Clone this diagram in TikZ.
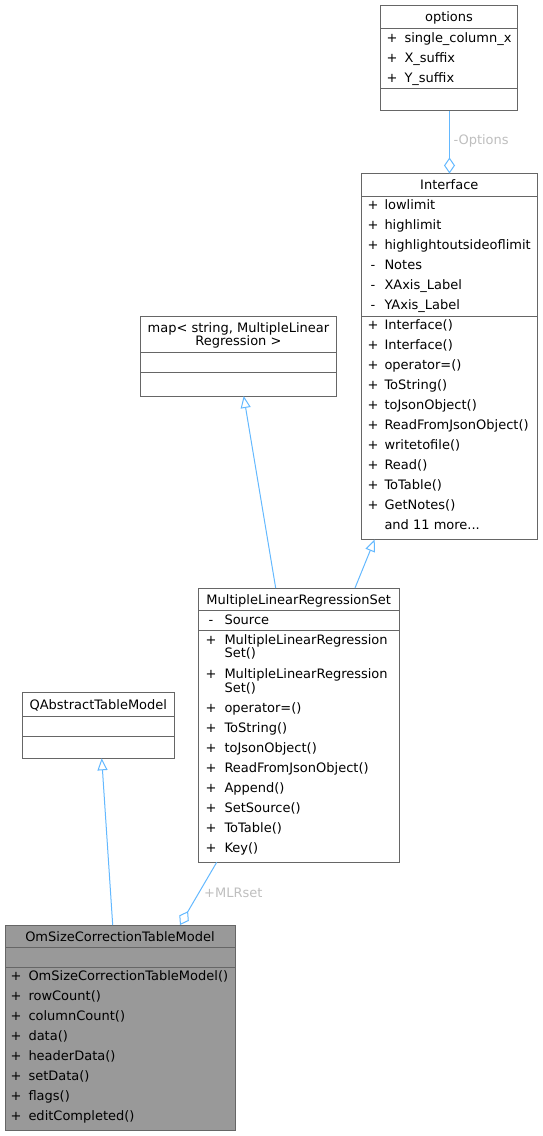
\documentclass[tikz,border=0pt]{standalone}
\usepackage{fontspec}
\setmainfont{DejaVu Sans}
\usetikzlibrary{arrows.meta}
\definecolor{edgeblue}{HTML}{63B8FF}
\definecolor{boxline}{HTML}{666666}
\definecolor{lblgrey}{HTML}{BEBEBE}
\definecolor{hlfill}{HTML}{999999}
\begin{document}
\begin{tikzpicture}[x=1pt,y=-1pt,
  umlbox/.style={draw=boxline, line width=1pt, fill=white, anchor=north west, inner sep=0pt, outer sep=0pt},
  hlbox/.style={umlbox, fill=hlfill},
  txt/.style={inner sep=0pt, anchor=base west, font=\fontsize{13}{15}\selectfont},
  vis/.style={inner sep=0pt, anchor=base, font=\fontsize{13}{15}\selectfont},
  hdr/.style={inner sep=0pt, anchor=base, font=\fontsize{13}{15}\selectfont},
  sepline/.style={draw=boxline, line width=1pt},
  inherit/.style={draw=edgeblue, line width=1pt, -{Triangle[open, length=12pt, width=10pt]}},
  aggr/.style={draw=edgeblue, line width=1pt, {Diamond[open, length=16pt, width=11pt]}-},
  elabel/.style={inner sep=0pt, anchor=base west, text=lblgrey, font=\fontsize{13}{15}\selectfont}]
\useasboundingbox (0,0) rectangle (543,1136);

% ---------- options ----------
\node[umlbox, minimum width=137pt, minimum height=105pt] (opt) at (380.5,5.5) {};
\draw[sepline] (380.5,28.5) -- (517.5,28.5);
\draw[sepline] (380.5,88.5) -- (517.5,88.5);
\node[hdr] (optH) at (449,21.5) {options};
\node[vis] (optv1) at (392,42.5) {+};
\node[txt] (opta1) at (404.3,42.5) {single\_column\_x};
\node[vis] (optv2) at (392,62.5) {+};
\node[txt] (opta2) at (404.3,62.5) {X\_suffix};
\node[vis] (optv3) at (392,82.5) {+};
\node[txt] (opta3) at (404.3,82.5) {Y\_suffix};

% ---------- Interface ----------
\node[umlbox, minimum width=176.7pt, minimum height=366pt] (ifc) at (361,173.5) {};
\draw[sepline] (361,196.5) -- (537.7,196.5);
\draw[sepline] (361,316.5) -- (537.7,316.5);
\node[hdr] (ifcH) at (449.3,189) {Interface};
\foreach \v/\t [count=\i] in {+/lowlimit,+/highlimit,+/highlightoutsideoflimit,-/Notes,-/XAxis\_Label,-/YAxis\_Label}{
  \node[vis] (ifcv\i) at (373,209+20*\i-20) {\v};
  \node[txt] (ifca\i) at (384.3,209+20*\i-20) {\t};
}
\foreach \t [count=\i] in {Interface(),Interface(),operator=(),ToString(),toJsonObject(),ReadFromJsonObject(),writetofile(),Read(),ToTable(),GetNotes()}{
  \node[vis] (ifcmv\i) at (373,329.5+20*\i-20) {+};
  \node[txt] (ifcm\i) at (384.3,329.5+20*\i-20) {\t};
}
\node[txt] (ifcmore) at (384.3,529.5) {and 11 more...};

% ---------- map ----------
\node[umlbox, minimum width=195.3pt, minimum height=80pt] (map) at (140.7,316) {};
\draw[sepline] (140.7,352.5) -- (336,352.5);
\draw[sepline] (140.7,372.5) -- (336,372.5);
\node[hdr] (mapH1) at (238.4,332) {map< string, MultipleLinear};
\node[hdr] (mapH2) at (238.4,345.5) {Regression >};

% ---------- MultipleLinearRegressionSet ----------
\node[umlbox, minimum width=200.7pt, minimum height=274.3pt] (mlrs) at (198.3,588) {};
\draw[sepline] (198.3,610.5) -- (399,610.5);
\draw[sepline] (198.3,630.5) -- (399,630.5);
\node[hdr] (mlrsH) at (298.7,604.5) {MultipleLinearRegressionSet};
\node[vis] (mlrsv0) at (211,624.5) {-};
\node[txt] (mlrsa1) at (224.3,624.5) {Source};
\node[vis] (mlrsv1) at (211,644.5) {+};
\node[txt] (mlrsm1a) at (224.3,644.5) {MultipleLinearRegression};
\node[txt] (mlrsm1b) at (224.3,657.8) {Set()};
\node[vis] (mlrsv2) at (211,678.8) {+};
\node[txt] (mlrsm2a) at (224.3,678.8) {MultipleLinearRegression};
\node[txt] (mlrsm2b) at (224.3,692.1) {Set()};
\foreach \t [count=\i] in {operator=(),ToString(),toJsonObject(),ReadFromJsonObject(),Append(),SetSource(),ToTable(),Key()}{
  \node[vis] (mlrsmv\i) at (211,712.8+20*\i-20) {+};
  \node[txt] (mlrsm\i) at (224.3,712.8+20*\i-20) {\t};
}

% ---------- QAbstractTableModel ----------
\node[umlbox, minimum width=152pt, minimum height=65.6pt] (qatm) at (22.3,692.7) {};
\draw[sepline] (22.3,716.5) -- (174.3,716.5);
\draw[sepline] (22.3,736.5) -- (174.3,736.5);
\node[hdr] (qatmH) at (98.3,709.5) {QAbstractTableModel};

% ---------- OmSizeCorrectionTableModel ----------
\node[hlbox, minimum width=230pt, minimum height=205.7pt] (oms) at (5.5,925) {};
\draw[sepline] (5.5,947.5) -- (235.5,947.5);
\draw[sepline] (5.5,967.5) -- (235.5,967.5);
\node[hdr] (omsH) at (120,941.2) {OmSizeCorrectionTableModel};
\foreach \t [count=\i] in {OmSizeCorrectionTableModel(),rowCount(),columnCount(),data(),headerData(),setData(),flags(),editCompleted()}{
  \node[vis] (omsv\i) at (16,980.5+20*\i-20) {+};
  \node[txt] (omsm\i) at (28.3,980.5+20*\i-20) {\t};
}

% ---------- connector end points ----------
\coordinate (optB) at (449.5,110.5);
\coordinate (ifcT) at (449.5,173.5);
\coordinate (ifcB) at (374.7,539.5);
\coordinate (mapB) at (243.7,396);
\coordinate (mlrsTL) at (275.7,588);
\coordinate (mlrsTR) at (355,588);
\coordinate (mlrsB) at (216.7,862.3);
\coordinate (qatmB) at (101.7,758.3);
\coordinate (omsTL) at (112.7,925);
\coordinate (omsTR) at (180,925);

% ---------- connectors ----------
\draw[aggr] (ifcT) -- (optB);
\draw[inherit] (mlrsTL) -- (mapB);
\draw[inherit] (mlrsTR) -- (ifcB);
\draw[inherit] (omsTL) -- (qatmB);
\draw[aggr] (omsTR) -- (mlrsB);

\node[elabel] (lblOpt) at (453.3,144.5) {-Options};
\node[elabel] (lblMLR) at (204,897) {+MLRset};
\end{tikzpicture}
\end{document}
